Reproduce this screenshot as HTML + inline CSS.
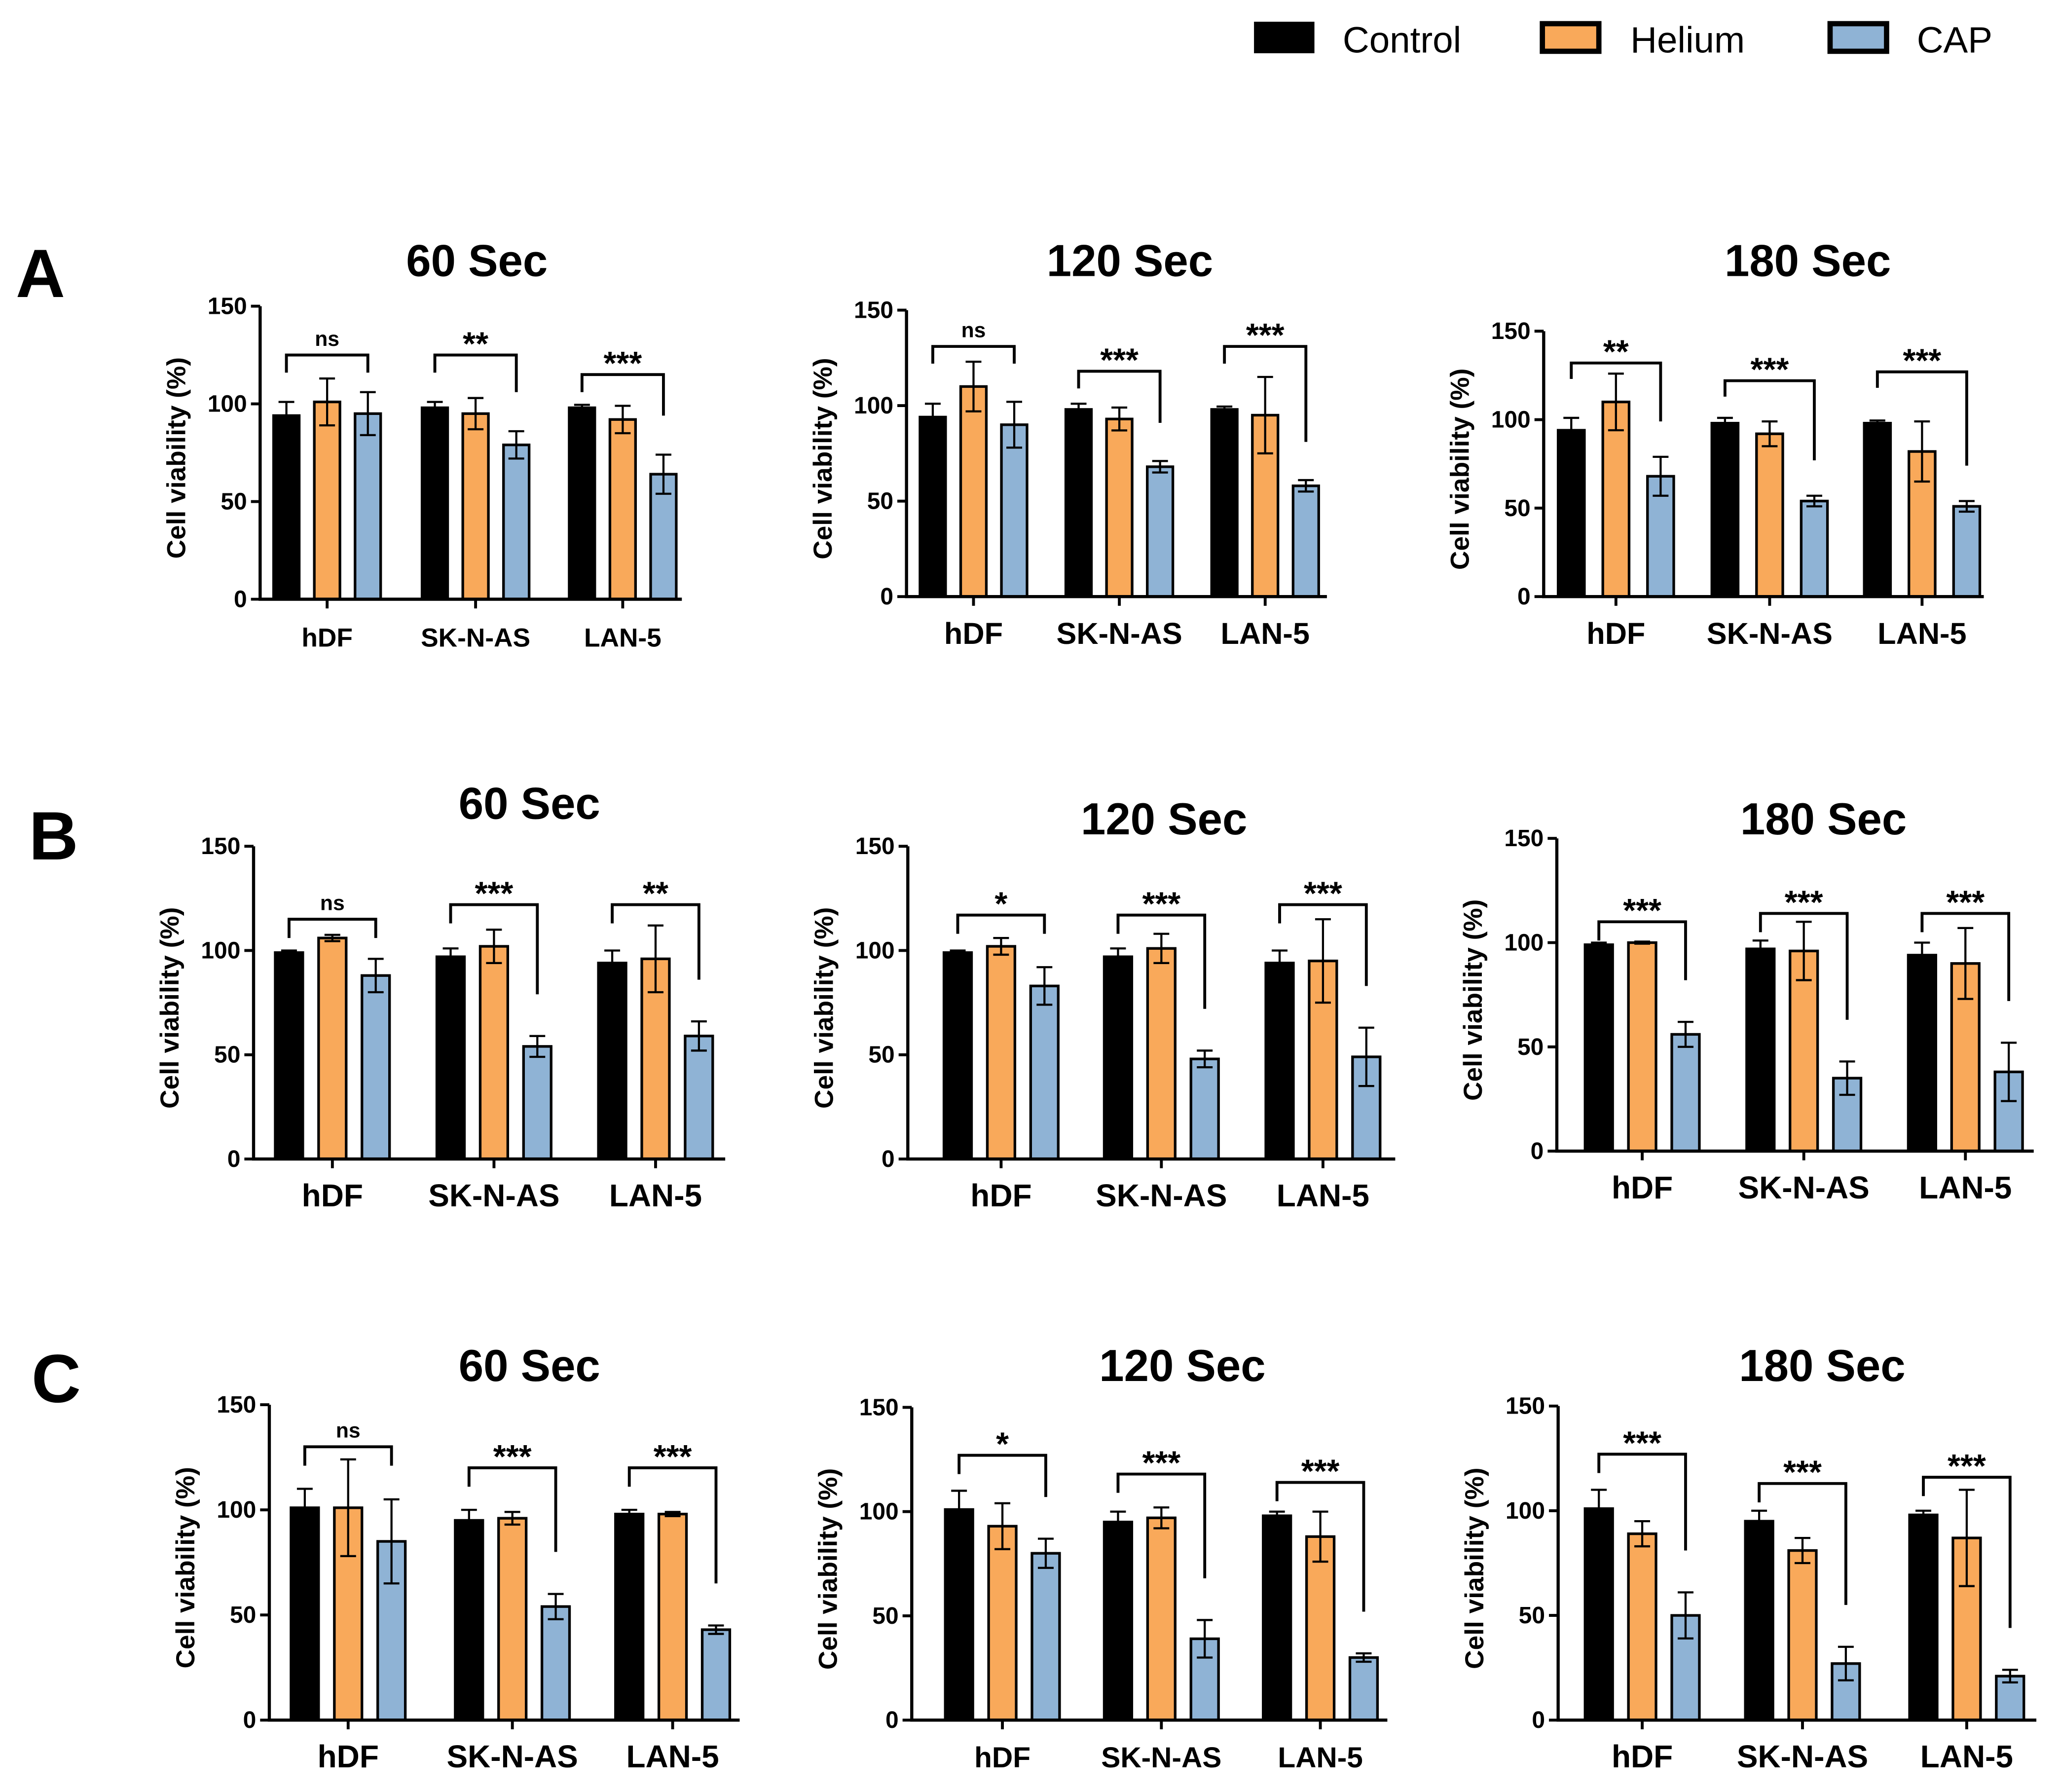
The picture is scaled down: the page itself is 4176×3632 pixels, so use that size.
<!DOCTYPE html>
<html><head><meta charset="utf-8">
<style>html,body{margin:0;padding:0;background:#fff}svg{display:block}text{font-family:"Liberation Sans",Arial,sans-serif}</style>
</head><body>
<svg id="fig" xmlns="http://www.w3.org/2000/svg" width="4176" height="3632" viewBox="0 0 1568 1363.7">
<g>
  <rect x="956" y="18" width="43" height="21" fill="#000" stroke="#000" stroke-width="3"/>
  <text x="1022" y="40" font-size="28">Control</text>
  <rect x="1174" y="18" width="43" height="21" fill="#f9a95a" stroke="#000" stroke-width="4"/>
  <text x="1241" y="40" font-size="28">Helium</text>
  <rect x="1393" y="18" width="43" height="21" fill="#8fb3d5" stroke="#000" stroke-width="4"/>
  <text x="1459" y="40" font-size="28">CAP</text>
</g>
<text x="12" y="226" font-size="52" font-weight="bold">A</text>
<text x="22" y="654" font-size="52" font-weight="bold">B</text>
<text x="24" y="1067" font-size="52" font-weight="bold">C</text>
</svg>
<script>
const categories = ["hDF","SK-N-AS","LAN-5"];
const seriesNames = ["Control","Helium","CAP"];
const yTicks = [0,50,100,150];
// values per panel: [control, helium, cap] per category
const a60Values = [[94,101,95],[98,95,79],[98,92,64]];
const a60Errors = [[7,12,11],[3,8,7],[1.5,7,10]];
const a60Sig = ["ns","**","***"];
const a60Bracket = [125,125,115];
const a120Values = [[94,110,90],[98,93,68],[98,95,58]];
const a120Errors = [[7,13,12],[3,6,3],[1.5,20,3]];
const a120Sig = ["ns","***","***"];
const a120Bracket = [131,118,131];
const a180Values = [[94,110,68],[98,92,54],[98,82,51]];
const a180Errors = [[7,16,11],[3,7,3],[1.5,17,3]];
const a180Sig = ["**","***","***"];
const a180Bracket = [132,122,127];
const b60Values = [[99,106,88],[97,102,54],[94,96,59]];
const b60Errors = [[1,1.5,8],[4,8,5],[6,16,7]];
const b60Sig = ["ns","***","**"];
const b60Bracket = [115,122,122];
const b120Values = [[99,102,83],[97,101,48],[94,95,49]];
const b120Errors = [[1,4,9],[4,7,4],[6,20,14]];
const b120Sig = ["*","***","***"];
const b120Bracket = [117,117,122];
const b180Values = [[99,100,56],[97,96,35],[94,90,38]];
const b180Errors = [[1,0.5,6],[4,14,8],[6,17,14]];
const b180Sig = ["***","***","***"];
const b180Bracket = [110,114,114];
const c60Values = [[101,101,85],[95,96,54],[98,98,43]];
const c60Errors = [[9,23,20],[5,3,6],[2,1,2]];
const c60Sig = ["ns","***","***"];
const c60Bracket = [130,120,120];
const c120Values = [[101,93,80],[95,97,39],[98,88,30]];
const c120Errors = [[9,11,7],[5,5,9],[2,12,2]];
const c120Sig = ["*","***","***"];
const c120Bracket = [127,118,114];
const c180Values = [[101,89,50],[95,81,27],[98,87,21]];
const c180Errors = [[9,6,11],[5,6,8],[2,23,3]];
const c180Sig = ["***","***","***"];
const c180Bracket = [127,113,116];

const colors = ["#000000","#f9a95a","#8fb3d5"];
const NS = "http://www.w3.org/2000/svg";
const svg = document.getElementById('fig');
function mk(tag, attrs, parent){const e=document.createElementNS(NS,tag);for(const k in attrs)e.setAttribute(k,attrs[k]);parent.appendChild(e);return e;}

const panels = [
 {id:"a-60",title:"60 Sec",v:a60Values,e:a60Errors,s:a60Sig,b:a60Bracket,ax:198,y150:233,y0:456,xe:519,g:[249,362,474],off:31,bw:19.5,tx:363,ty:210,fs:20,ts:18},
 {id:"a-120",title:"120 Sec",v:a120Values,e:a120Errors,s:a120Sig,b:a120Bracket,ax:690,y150:236,y0:454,xe:1010,g:[741,852,963],off:31,bw:19.5,tx:860,ty:210,fs:23,ts:18},
 {id:"a-180",title:"180 Sec",v:a180Values,e:a180Errors,s:a180Sig,b:a180Bracket,ax:1175,y150:252,y0:454,xe:1510,g:[1230,1347,1463],off:34,bw:20,tx:1376,ty:210,fs:23,ts:18},
 {id:"b-60",title:"60 Sec",v:b60Values,e:b60Errors,s:b60Sig,b:b60Bracket,ax:193,y150:644,y0:882,xe:552,g:[253,376,499],off:33,bw:21,tx:403,ty:623,fs:24,ts:18},
 {id:"b-120",title:"120 Sec",v:b120Values,e:b120Errors,s:b120Sig,b:b120Bracket,ax:691,y150:644,y0:882,xe:1062,g:[762,884,1007],off:33,bw:21,tx:886,ty:635,fs:24,ts:18},
 {id:"b-180",title:"180 Sec",v:b180Values,e:b180Errors,s:b180Sig,b:b180Bracket,ax:1185,y150:638,y0:876,xe:1548,g:[1250,1373,1496],off:33,bw:21,tx:1388,ty:635,fs:24,ts:18},
 {id:"c-60",title:"60 Sec",v:c60Values,e:c60Errors,s:c60Sig,b:c60Bracket,ax:205,y150:1069,y0:1309,xe:563,g:[265,390,512],off:33,bw:21,tx:403,ty:1051,fs:24,ts:18},
 {id:"c-120",title:"120 Sec",v:c120Values,e:c120Errors,s:c120Sig,b:c120Bracket,ax:694,y150:1071,y0:1309,xe:1056,g:[763,884,1005],off:33,bw:21,tx:900,ty:1051,fs:22,ts:18},
 {id:"c-180",title:"180 Sec",v:c180Values,e:c180Errors,s:c180Sig,b:c180Bracket,ax:1186,y150:1070,y0:1309,xe:1550,g:[1250,1372,1497],off:33,bw:21,tx:1387,ty:1051,fs:24,ts:18}
];

panels.forEach(p=>{
  const g = mk('g',{},svg);
  
  
  const y = v => p.y0 - (p.y0-p.y150)*v/150;
  const t = mk('text',{x:p.tx,y:p.ty,'font-size':34,'font-weight':'bold','text-anchor':'middle'},g);
  
  
  t.textContent = p.title;
  const yt = mk('text',{transform:`translate(${p.ax-57},${(p.y0+p.y150)/2+4}) rotate(-90)`,'font-size':20,'font-weight':'bold','text-anchor':'middle'},g);
  
  
  yt.textContent = 'Cell viability (%)';
  categories.forEach((c,ci)=>{
    seriesNames.forEach((s,si)=>{
      const cx = p.g[ci] + (si-1)*p.off;
      const val = p.v[ci][si], err = p.e[ci][si];
      const r = mk('rect',{x:cx-p.bw/2,y:y(val),width:p.bw,height:p.y0-y(val),fill:colors[si],stroke:'#000','stroke-width':2},g);
      
      
      const eb = mk('path',{d:`M${cx},${y(val+err)}V${y(val-err)}M${cx-6},${y(val+err)}H${cx+6}M${cx-6},${y(val-err)}H${cx+6}`,stroke:'#000','stroke-width':1.6,fill:'none'},g);
      
      
    });
    const bv = p.b[ci];
    const x1 = p.g[ci]-p.off, x2 = p.g[ci]+p.off;
    const capTop = p.v[ci][2]+p.e[ci][2];
    const rEnd = Math.min(bv-9, capTop+20);
    const br = mk('path',{d:`M${x1},${y(bv-9)}V${y(bv)}H${x2}V${y(rEnd)}`,stroke:'#000','stroke-width':2.2,fill:'none'},g);
    
    
    const st = mk('text',{x:p.g[ci],y:y(bv)-(p.s[ci]==='ns'?7:0),'font-size':p.s[ci]==='ns'?16:25,'font-weight':'bold','text-anchor':'middle'},g);
    
    
    st.textContent = p.s[ci];
    const tk = mk('line',{x1:p.g[ci],x2:p.g[ci],y1:p.y0,y2:p.y0+7,stroke:'#000','stroke-width':2.2},g);
    
    
    const xl = mk('text',{x:p.g[ci],y:p.y0+36,'font-size':p.fs,'font-weight':'bold','text-anchor':'middle'},g);
    
    
    xl.textContent = c;
  });
  yTicks.forEach(v=>{
    const l = mk('line',{x1:p.ax-7,x2:p.ax,y1:y(v),y2:y(v),stroke:'#000','stroke-width':2.2},g);
    
    
    const tl = mk('text',{x:p.ax-10,y:y(v)+6,'font-size':p.ts,'font-weight':'bold','text-anchor':'end'},g);
    
    
    tl.textContent = v;
  });
  const axes = mk('path',{d:`M${p.ax},${p.y150}V${p.y0}H${p.xe}`,stroke:'#000','stroke-width':2.4,fill:'none'},g);
  
  
});
</script>
</body></html>
